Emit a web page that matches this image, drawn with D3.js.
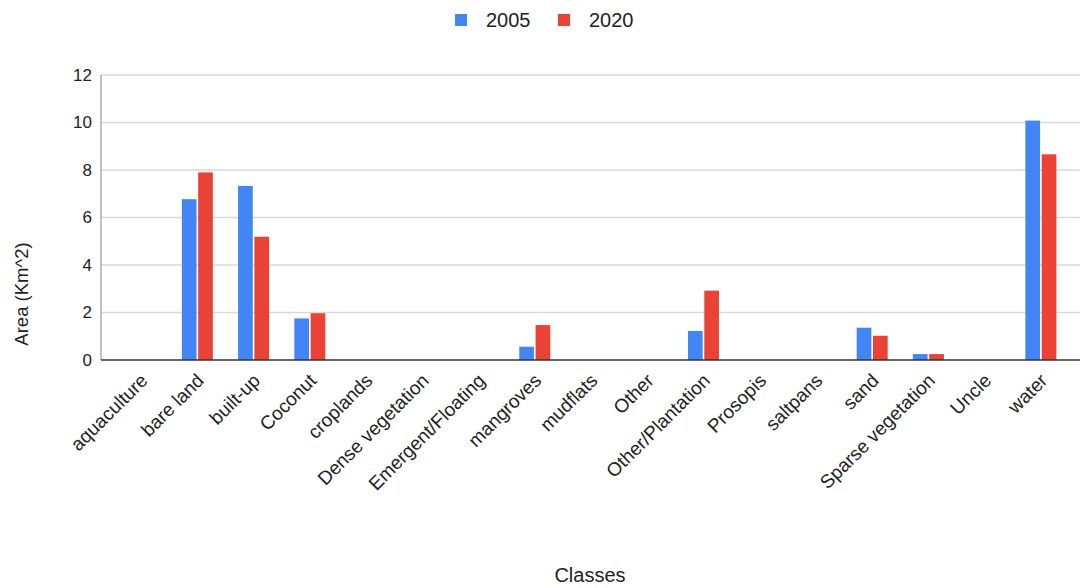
<!DOCTYPE html>
<html>
<head>
<meta charset="utf-8">
<script src="https://cdn.jsdelivr.net/npm/d3@7"></script>
<style>
  html, body { margin: 0; padding: 0; background: #fff; }
  svg text { font-family: "Liberation Sans", Arial, sans-serif; fill: #222; }
</style>
</head>
<body>
<svg id="chart" width="1083" height="588"></svg>
<script>
const classes = [
  "aquaculture", "bare land", "built-up", "Coconut", "croplands",
  "Dense vegetation", "Emergent/Floating", "mangroves", "mudflats", "Other",
  "Other/Plantation", "Prosopis", "saltpans", "sand", "Sparse vegetation",
  "Uncle", "water",
];
const seriesNames = ["2005", "2020"];
const values2005 = [0, 6.77, 7.33, 1.75, 0, 0, 0, 0.56, 0, 0, 1.22, 0, 0, 1.36, 0.25, 0, 10.08];
const values2020 = [0, 7.9, 5.19, 1.97, 0, 0, 0, 1.47, 0, 0, 2.92, 0, 0, 1.02, 0.25, 0, 8.66];
const yTicks = [0, 2, 4, 6, 8, 10, 12];
const seriesColors = ["#4285f4", "#ea4335"];

const svg = d3.select("#chart");
const plot = { left: 101, right: 1080, top: 75, bottom: 360 };

const rows = classes.map((name, i) => ({
  name,
  vals: [values2005[i], values2020[i]],
}));

const x = d3.scaleBand().domain(classes).range([113, 1069]).padding(0);
const x1 = d3.scaleBand().domain(seriesNames).range([0, 31]).paddingInner(0.1);
const y = d3.scaleLinear().domain([0, 12]).range([plot.bottom, plot.top]);

// gridlines
svg.append("g")
  .selectAll("line")
  .data(yTicks.filter((t) => t > 0))
  .join("line")
  .attr("x1", plot.left)
  .attr("x2", plot.right)
  .attr("y1", (d) => y(d))
  .attr("y2", (d) => y(d))
  .attr("stroke", "#d9d9d9")
  .attr("stroke-width", 1.5);

// y axis line
svg.append("line")
  .attr("x1", plot.left).attr("x2", plot.left)
  .attr("y1", plot.top).attr("y2", plot.bottom)
  .attr("stroke", "#999").attr("stroke-width", 1.2);

// y tick labels
svg.append("g")
  .selectAll("text")
  .data(yTicks)
  .join("text")
  .attr("x", 92)
  .attr("y", (d) => y(d))
  .attr("dy", "0.35em")
  .attr("text-anchor", "end")
  .style("font-size", "17px")
  .text((d) => d);

// bars
const groups = svg.append("g")
  .selectAll("g")
  .data(rows)
  .join("g")
  .attr("transform", (d) => `translate(${x(d.name) + x.bandwidth() / 2 - 15.5},0)`);

groups.selectAll("rect")
  .data((d) => d.vals.map((v, k) => ({ key: seriesNames[k], v, k })))
  .join("rect")
  .attr("x", (d) => x1(d.key))
  .attr("y", (d) => y(d.v))
  .attr("width", x1.bandwidth())
  .attr("height", (d) => y(0) - y(d.v))
  .attr("fill", (d) => seriesColors[d.k]);

// baseline
svg.append("line")
  .attr("x1", plot.left).attr("x2", plot.right)
  .attr("y1", y(0)).attr("y2", y(0))
  .attr("stroke", "#333").attr("stroke-width", 1.5);

// x labels rotated
svg.append("g")
  .selectAll("text")
  .data(classes)
  .join("text")
  .attr("transform", (d) => `translate(${x(d) + x.bandwidth() / 2 + 3},${377}) rotate(-45)`)
  .attr("text-anchor", "end")
  .attr("dy", "0.35em")
  .style("font-size", "19px")
  .text((d) => d);

// axis titles
svg.append("text")
  .attr("transform", "translate(28,294) rotate(-90)")
  .attr("text-anchor", "middle")
  .style("font-size", "18.5px")
  .text("Area (Km^2)");

svg.append("text")
  .attr("x", 590)
  .attr("y", 582)
  .attr("text-anchor", "middle")
  .style("font-size", "20px")
  .text("Classes");

// legend
const legend = svg.append("g")
  .selectAll("g")
  .data(seriesNames)
  .join("g")
  .attr("transform", (d, i) => `translate(${[455, 558][i]},14)`);

legend.append("rect")
  .attr("width", 12).attr("height", 12)
  .attr("fill", (d, i) => seriesColors[i]);

legend.append("text")
  .attr("x", 31)
  .attr("y", 6)
  .attr("dy", "0.36em")
  .style("font-size", "20px")
  .text((d) => d);
</script>
</body>
</html>
